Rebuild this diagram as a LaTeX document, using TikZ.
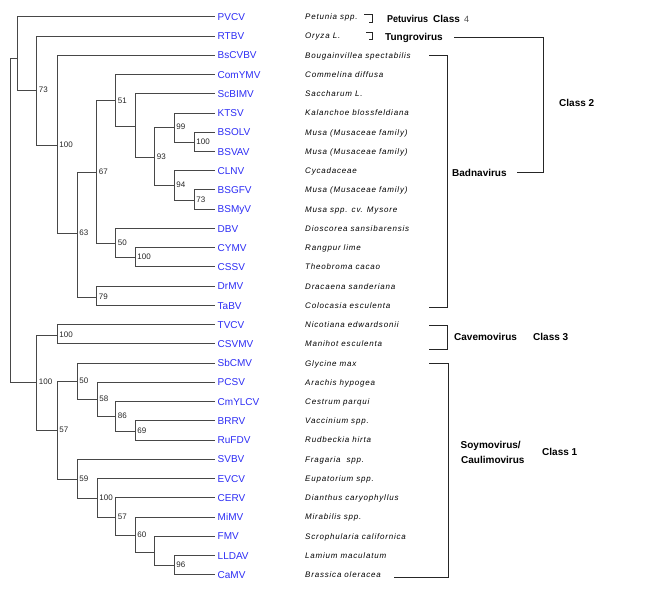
\documentclass[tikz,border=0pt]{standalone}
\usepackage{fontspec}
\setmainfont{Liberation Sans}
\newfontfamily\spfont{Liberation Sans}[LetterSpace=10]
\newfontfamily\condfont{Liberation Sans}[FakeStretch=0.9]
\definecolor{leafblue}{RGB}{45,45,245}
\begin{document}
\begin{tikzpicture}[x=1pt,y=-1pt,
 branch/.style={draw=black!72, line width=0.75pt},
 brk/.style={draw=black!85, line width=0.75pt},
 leaflab/.style={anchor=base west, inner sep=0pt, xshift=2.5pt, yshift=-3.7pt, text=leafblue, font=\fontsize{10}{12}\selectfont},
 species/.style={anchor=base west, inner sep=0pt, yshift=-3pt, font=\spfont\itshape\fontsize{8}{10}\selectfont},
 boot/.style={anchor=base west, inner sep=0pt, xshift=2.2pt, yshift=-2.9pt, font=\fontsize{8}{10}\selectfont, text=black!85},
 genus/.style={anchor=base west, inner sep=0pt, yshift=-3.6pt, font=\bfseries\fontsize{10}{12}\selectfont}
]
\fill[white] (0,0) rectangle (647,600);
\useasboundingbox (0,0) rectangle (647,600);

% leaves
\foreach \n/\i/\sp in {
 PVCV/0/{Petunia spp.},
 RTBV/1/{Oryza L.},
 BsCVBV/2/{Bougainvillea spectabilis},
 ComYMV/3/{Commelina diffusa},
 ScBIMV/4/{Saccharum L.},
 KTSV/5/{Kalanchoe blossfeldiana},
 BSOLV/6/{Musa (Musaceae family)},
 BSVAV/7/{Musa (Musaceae family)},
 CLNV/8/{Cycadaceae},
 BSGFV/9/{Musa (Musaceae family)},
 BSMyV/10/{Musa spp. cv. Mysore},
 DBV/11/{Dioscorea sansibarensis},
 CYMV/12/{Rangpur lime},
 CSSV/13/{Theobroma cacao},
 DrMV/14/{Dracaena sanderiana},
 TaBV/15/{Colocasia esculenta},
 TVCV/16/{Nicotiana edwardsonii},
 CSVMV/17/{Manihot esculenta},
 SbCMV/18/{Glycine max},
 PCSV/19/{Arachis hypogea},
 CmYLCV/20/{Cestrum parqui},
 BRRV/21/{Vaccinium spp.},
 RuFDV/22/{Rudbeckia hirta},
 SVBV/23/{Fragaria~~spp.},
 EVCV/24/{Eupatorium spp.},
 CERV/25/{Dianthus caryophyllus},
 MiMV/26/{Mirabilis spp.},
 FMV/27/{Scrophularia californica},
 LLDAV/28/{Lamium maculatum},
 CaMV/29/{Brassica oleracea}}
{
 \coordinate (\n) at (215,{16.7+19.24*\i});
 \node[leaflab] (lab\n) at (\n) {\n};
 \node[species] (sp\n) at (305,{16.7+19.24*\i}) {\sp};
}

% internal nodes
\coordinate (root) at (10,220);
\coordinate (nA) at (17,58);
\coordinate (n73) at (36.5,90);
\coordinate (n100a) at (57,145);
\coordinate (n63) at (77,233);
\coordinate (n67) at (96.5,172);
\coordinate (n51) at (115.5,100.5);
\coordinate (nS) at (135,126.5);
\coordinate (n93) at (154.5,157);
\coordinate (n99) at (174,127);
\coordinate (n100b) at (194,142);
\coordinate (n94) at (174,185);
\coordinate (n73b) at (194,200);
\coordinate (n50) at (115.5,243);
\coordinate (n100c) at (135,257);
\coordinate (n79) at (96.5,297);
\coordinate (nL) at (36.5,382);
\coordinate (n100d) at (57,335);
\coordinate (n57) at (57,430);
\coordinate (n50b) at (77,381);
\coordinate (n58) at (97,399);
\coordinate (n86) at (115.5,416);
\coordinate (n69) at (135,431);
\coordinate (n59) at (77,479);
\coordinate (n100e) at (97,498);
\coordinate (n57b) at (115.5,517);
\coordinate (n60) at (135,535);
\coordinate (nF) at (154.5,552);
\coordinate (n96) at (174,565);

% branches
\draw[branch] (root) |- (nA);
\draw[branch] (root) |- (nL);
\draw[branch] (nA) |- (PVCV);
\draw[branch] (nA) |- (n73);
\draw[branch] (n73) |- (RTBV);
\draw[branch] (n73) |- (n100a);
\draw[branch] (n100a) |- (BsCVBV);
\draw[branch] (n100a) |- (n63);
\draw[branch] (n63) |- (n67);
\draw[branch] (n63) |- (n79);
\draw[branch] (n67) |- (n51);
\draw[branch] (n67) |- (n50);
\draw[branch] (n51) |- (ComYMV);
\draw[branch] (n51) |- (nS);
\draw[branch] (nS) |- (ScBIMV);
\draw[branch] (nS) |- (n93);
\draw[branch] (n93) |- (n99);
\draw[branch] (n93) |- (n94);
\draw[branch] (n99) |- (KTSV);
\draw[branch] (n99) |- (n100b);
\draw[branch] (n100b) |- (BSOLV);
\draw[branch] (n100b) |- (BSVAV);
\draw[branch] (n94) |- (CLNV);
\draw[branch] (n94) |- (n73b);
\draw[branch] (n73b) |- (BSGFV);
\draw[branch] (n73b) |- (BSMyV);
\draw[branch] (n50) |- (DBV);
\draw[branch] (n50) |- (n100c);
\draw[branch] (n100c) |- (CYMV);
\draw[branch] (n100c) |- (CSSV);
\draw[branch] (n79) |- (DrMV);
\draw[branch] (n79) |- (TaBV);
\draw[branch] (nL) |- (n100d);
\draw[branch] (nL) |- (n57);
\draw[branch] (n100d) |- (TVCV);
\draw[branch] (n100d) |- (CSVMV);
\draw[branch] (n57) |- (n50b);
\draw[branch] (n57) |- (n59);
\draw[branch] (n50b) |- (SbCMV);
\draw[branch] (n50b) |- (n58);
\draw[branch] (n58) |- (PCSV);
\draw[branch] (n58) |- (n86);
\draw[branch] (n86) |- (CmYLCV);
\draw[branch] (n86) |- (n69);
\draw[branch] (n69) |- (BRRV);
\draw[branch] (n69) |- (RuFDV);
\draw[branch] (n59) |- (SVBV);
\draw[branch] (n59) |- (n100e);
\draw[branch] (n100e) |- (EVCV);
\draw[branch] (n100e) |- (n57b);
\draw[branch] (n57b) |- (CERV);
\draw[branch] (n57b) |- (n60);
\draw[branch] (n60) |- (MiMV);
\draw[branch] (n60) |- (nF);
\draw[branch] (nF) |- (FMV);
\draw[branch] (nF) |- (n96);
\draw[branch] (n96) |- (LLDAV);
\draw[branch] (n96) |- (CaMV);

% bootstrap values
\node[boot] (b73) at (n73) {73};
\node[boot] (b100a) at (n100a) {100};
\node[boot] (b63) at (n63) {63};
\node[boot] (b67) at (n67) {67};
\node[boot] (b51) at (n51) {51};
\node[boot] (b93) at (n93) {93};
\node[boot] (b99) at (n99) {99};
\node[boot] (b100b) at (n100b) {100};
\node[boot] (b94) at (n94) {94};
\node[boot] (b73b) at (n73b) {73};
\node[boot] (b50) at (n50) {50};
\node[boot] (b100c) at (n100c) {100};
\node[boot] (b79) at (n79) {79};
\node[boot] (bL) at (nL) {100};
\node[boot] (b100d) at (n100d) {100};
\node[boot] (b57) at (n57) {57};
\node[boot] (b50b) at (n50b) {50};
\node[boot] (b58) at (n58) {58};
\node[boot] (b86) at (n86) {86};
\node[boot] (b69) at (n69) {69};
\node[boot] (b59) at (n59) {59};
\node[boot] (b100e) at (n100e) {100};
\node[boot] (b57b) at (n57b) {57};
\node[boot] (b60) at (n60) {60};
\node[boot] (b96) at (n96) {96};

% small brackets
\coordinate (pbA) at (364,14.3);
\coordinate (pbB) at (368.5,22.3);
\draw[brk] (pbA) -- (372.3,14.3) |- (pbB);
\coordinate (obA) at (366,32.3);
\coordinate (obB) at (369,39.3);
\draw[brk] (obA) -- (372.3,32.3) |- (obB);

% group labels
\node[genus, font=\condfont\bfseries\fontsize{10}{12}\selectfont] (petu) at (387,18.5) {Petuvirus};
\node[genus] (cls4) at (433,18.5) {Class};
\node[anchor=base west, inner sep=0pt, yshift=-3.6pt, font=\fontsize{9}{11}\selectfont, text=black!70] (cls4n) at (464,18.5) {4};
\node[genus] (tungro) at (385,36.5) {Tungrovirus};
\node[genus] (badna) at (452,172.5) {Badnavirus};
\node[genus] (cls2) at (559,103) {Class 2};
\node[genus] (cavemo) at (454,336.5) {Cavemovirus};
\node[genus] (cls3) at (533,336.5) {Class 3};
\node[genus] (soymo) at (460.5,445) {Soymovirus/};
\node[genus] (caulimo) at (461,459.5) {Caulimovirus};
\node[genus] (cls1) at (542,452) {Class 1};

% Class 2 bracket (Tungrovirus + Badnavirus)
\coordinate (tgA) at (454,37.7);
\coordinate (tgC) at (543,172.7);
\coordinate (tgD) at (517,172.7);
\draw[brk] (tgA) -| (tgC) -- (tgD);

% Badnavirus bracket
\coordinate (bdT) at (429,55.2);
\coordinate (bdB) at (429,307.7);
\draw[brk] (bdT) -- (447,55.2) |- (bdB);

% Cavemovirus bracket
\coordinate (cvT) at (429,325.7);
\coordinate (cvB) at (429,349);
\draw[brk] (cvT) -- (447,325.7) |- (cvB);

% Soymovirus/Caulimovirus bracket
\coordinate (smT) at (429,363);
\coordinate (smB) at (394,577);
\draw[brk] (smT) -- (448,363) |- (smB);
\end{tikzpicture}
\end{document}
